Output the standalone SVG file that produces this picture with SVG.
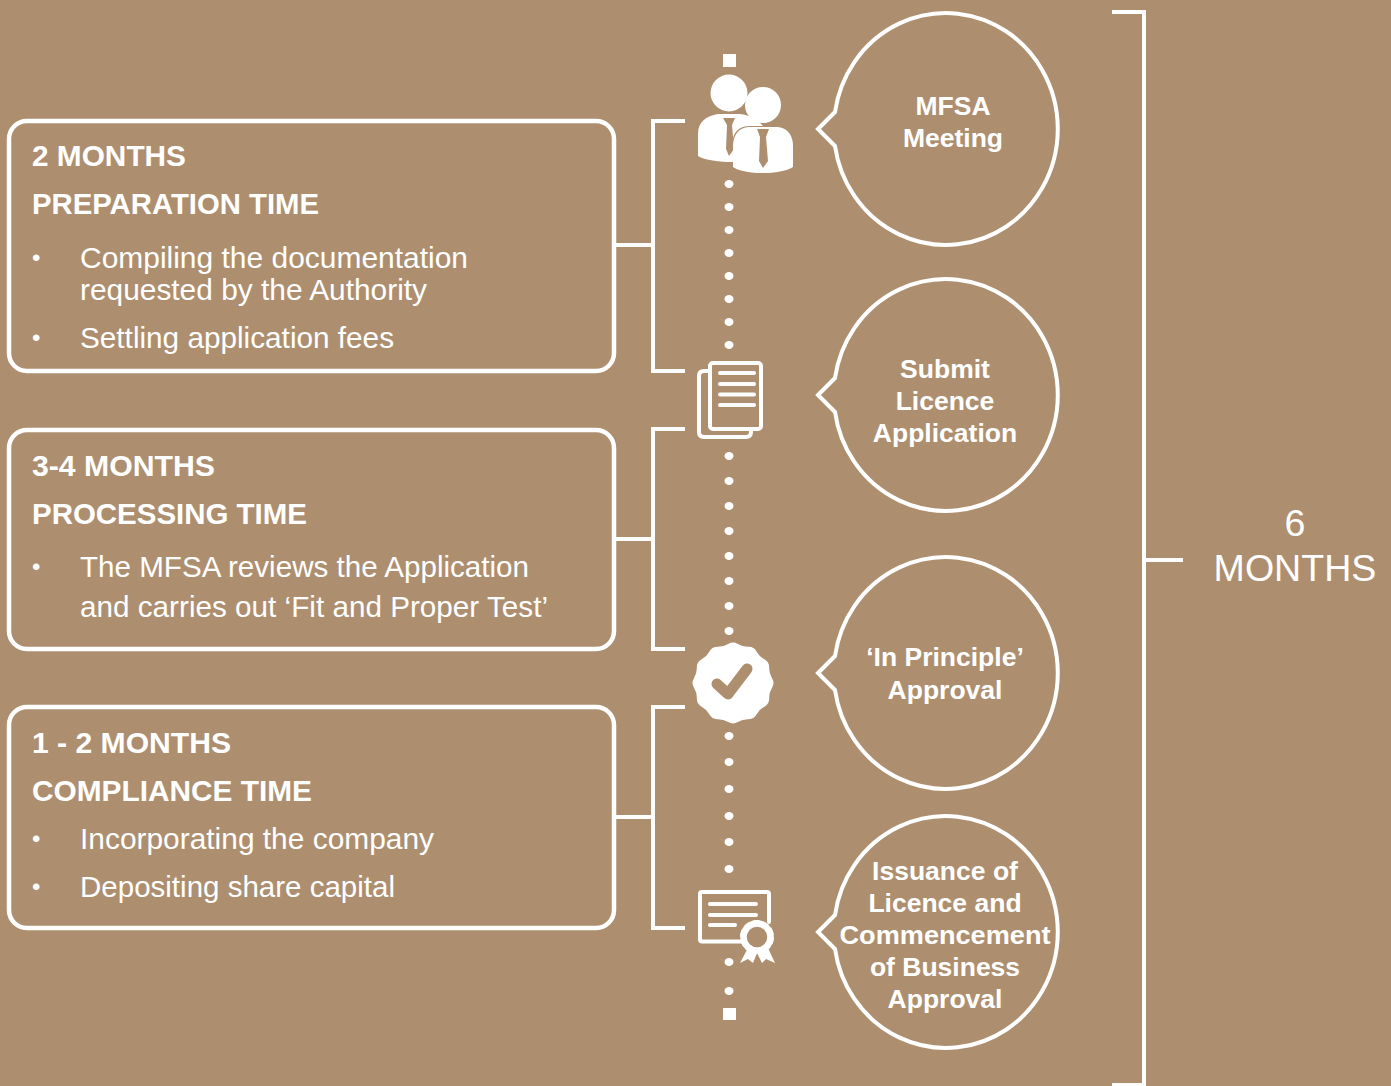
<svg xmlns="http://www.w3.org/2000/svg" width="1391" height="1086" viewBox="0 0 1391 1086">
<style>
text{font-family:"Liberation Sans",Arial,sans-serif;fill:#fff}
.h{font-size:29.5px;font-weight:700}
.b{font-size:30px}
.bu{font-size:24px}
.c{font-size:26.5px;font-weight:700;text-anchor:middle}
.m{font-size:37.6px;text-anchor:middle}
.box{fill:none;stroke:#fff;stroke-width:4.5}
.line{fill:none;stroke:#fff;stroke-width:4}
.ico{fill:none;stroke:#fff;stroke-width:4;stroke-linejoin:round;stroke-linecap:round}
.w{fill:#fff}
.t{fill:#ad8f70}
</style>
<defs>
<path id="bubble" d="M835 -17L818 0L835 17A112 116 0 1 0 835 -17Z" fill="none" stroke="#fff" stroke-width="4"/>
</defs>
<rect width="1391" height="1086" fill="#ad8f70"/>
<g id="connectors">
<path class="line" d="M685 121H653V371H685M614 245H653"/>
<path class="line" d="M685 429H653V649H685M614 539H653"/>
<path class="line" d="M685 707H653V928H685M614 817H653"/>
<path class="line" d="M1112 12H1144V1085H1112M1144 560H1183"/>
<g class="w">
<rect x="723" y="54" width="13" height="13"/>
<rect x="723" y="1008" width="13" height="12"/>
<ellipse cx="729" cy="184" rx="4.5" ry="4"/><ellipse cx="729" cy="207" rx="4.5" ry="4"/><ellipse cx="729" cy="230" rx="4.5" ry="4"/><ellipse cx="729" cy="253" rx="4.5" ry="4"/><ellipse cx="729" cy="276" rx="4.5" ry="4"/><ellipse cx="729" cy="299" rx="4.5" ry="4"/><ellipse cx="729" cy="322" rx="4.5" ry="4"/><ellipse cx="729" cy="345" rx="4.5" ry="4"/>
<ellipse cx="729" cy="456" rx="4.5" ry="4"/><ellipse cx="729" cy="481" rx="4.5" ry="4"/><ellipse cx="729" cy="506" rx="4.5" ry="4"/><ellipse cx="729" cy="531" rx="4.5" ry="4"/><ellipse cx="729" cy="556" rx="4.5" ry="4"/><ellipse cx="729" cy="581" rx="4.5" ry="4"/><ellipse cx="729" cy="606" rx="4.5" ry="4"/><ellipse cx="729" cy="631" rx="4.5" ry="4"/>
<ellipse cx="729" cy="736" rx="4.5" ry="4"/><ellipse cx="729" cy="762" rx="4.5" ry="4"/><ellipse cx="729" cy="789" rx="4.5" ry="4"/><ellipse cx="729" cy="816" rx="4.5" ry="4"/><ellipse cx="729" cy="842" rx="4.5" ry="4"/><ellipse cx="729" cy="869" rx="4.5" ry="4"/>
<ellipse cx="729" cy="962" rx="4.5" ry="4"/><ellipse cx="729" cy="991" rx="4.5" ry="4"/>
</g>
</g>
<g id="box-preparation">
<rect class="box" x="9" y="121" width="605" height="250" rx="18"/>
<text class="h" x="32" y="166" textLength="154" lengthAdjust="spacingAndGlyphs">2 MONTHS</text>
<text class="h" x="32" y="214" textLength="287" lengthAdjust="spacingAndGlyphs">PREPARATION TIME</text>
<text class="bu" x="32" y="266">•</text>
<text class="b" x="80" y="268" textLength="388" lengthAdjust="spacingAndGlyphs">Compiling the documentation</text>
<text class="b" x="80" y="300" textLength="347" lengthAdjust="spacingAndGlyphs">requested by the Authority</text>
<text class="bu" x="32" y="346">•</text>
<text class="b" x="80" y="348" textLength="314" lengthAdjust="spacingAndGlyphs">Settling application fees</text>
</g>
<g id="box-processing">
<rect class="box" x="9" y="430" width="605" height="219" rx="18"/>
<text class="h" x="32" y="476" textLength="183" lengthAdjust="spacingAndGlyphs">3-4 MONTHS</text>
<text class="h" x="32" y="524" textLength="275" lengthAdjust="spacingAndGlyphs">PROCESSING TIME</text>
<text class="bu" x="32" y="575">•</text>
<text class="b" x="80" y="577" textLength="449" lengthAdjust="spacingAndGlyphs">The MFSA reviews the Application</text>
<text class="b" x="80" y="617" textLength="468" lengthAdjust="spacingAndGlyphs">and carries out ‘Fit and Proper Test’</text>
</g>
<g id="box-compliance">
<rect class="box" x="9" y="707" width="605" height="221" rx="18"/>
<text class="h" x="32" y="753" textLength="199" lengthAdjust="spacingAndGlyphs">1 - 2 MONTHS</text>
<text class="h" x="32" y="801" textLength="280" lengthAdjust="spacingAndGlyphs">COMPLIANCE TIME</text>
<text class="bu" x="32" y="847">•</text>
<text class="b" x="80" y="849" textLength="354" lengthAdjust="spacingAndGlyphs">Incorporating the company</text>
<text class="bu" x="32" y="895">•</text>
<text class="b" x="80" y="897" textLength="315" lengthAdjust="spacingAndGlyphs">Depositing share capital</text>
</g>
<g id="icon-meeting">
<circle class="w" cx="729" cy="93" r="18.5"/>
<path class="w" d="M718 114H740C750 115 758 120 763 126L750 126C738 126 733 134 733 140V162C720 162 704 160 698 156V134C698 122 706 116 718 114Z"/>
<path class="t" d="M723 118H735L732 125L734 149L729 156L726 149L727 125Z"/>
<circle class="w" cx="763" cy="105" r="18"/>
<path class="w" d="M748 127H778C788 128 793 136 793 146V167C780 175 745 175 733 167V146C733 136 738 128 748 127Z"/>
<path class="t" d="M757 129H769L766 137L768 161L763 168L759 161L760 137Z"/>
</g>
<g id="icon-document">
<path class="ico" d="M708 371H704Q699 371 699 376V432Q699 437 704 437H746Q751 437 751 432V430"/>
<rect class="ico" x="710" y="363" width="51" height="66" rx="3"/>
<path class="ico" d="M720 373H754M720 384H754M720 394.500H754M720 405H754"/>
</g>
<g id="icon-approval">
<path class="w" transform="translate(733 683) scale(1.05) translate(-733 -683)" d="M728.400 645.850Q733 643 737.600 645.850Q742.200 648.700 747.600 648.550Q753 648.400 755.550 653.150Q758.100 657.900 762.850 660.450Q767.600 663 767.450 668.400Q767.300 673.800 770.150 678.400Q773 683 770.150 687.600Q767.300 692.200 767.450 697.600Q767.600 703 762.850 705.550Q758.100 708.100 755.550 712.850Q753 717.600 747.600 717.450Q742.200 717.300 737.600 720.150Q733 723 728.400 720.150Q723.800 717.300 718.400 717.450Q713 717.600 710.450 712.850Q707.900 708.100 703.150 705.550Q698.400 703 698.550 697.600Q698.700 692.200 695.850 687.600Q693 683 695.850 678.400Q698.700 673.800 698.550 668.400Q698.400 663 703.150 660.450Q707.900 657.900 710.450 653.150Q713 648.400 718.400 648.550Q723.800 648.700 728.400 645.850Z"/>
<path d="M717 684L728 694L747 669" fill="none" stroke="#ad8f70" stroke-width="11" stroke-linejoin="round" stroke-linecap="round"/>
</g>
<g id="icon-certificate">
<path class="ico" d="M741 941.500H702Q700 941.500 700 939.500V894Q700 892 702 892H767Q769 892 769 894V922"/>
<path class="ico" d="M710 904H756M710 915H756M710 925H735"/>
<path class="w" d="M748 948L740 963L748 959L753 963L757 953Z"/>
<path class="w" d="M757 953L762 963L766 959L775 963L768 948Z"/>
<circle cx="757" cy="937" r="13.500" fill="#ad8f70" stroke="#fff" stroke-width="6.500"/>
<circle cx="757" cy="937" r="15.500" fill="none" stroke="#fff" stroke-width="3" stroke-dasharray="7 2.740"/>
</g>
<g id="bubble-meeting">
<use href="#bubble" y="129"/>
<text class="c" x="953" y="115">MFSA</text>
<text class="c" x="953" y="147">Meeting</text>
</g>
<g id="bubble-submit">
<use href="#bubble" y="395"/>
<text class="c" x="945" y="378">Submit</text>
<text class="c" x="945" y="410">Licence</text>
<text class="c" x="945" y="442">Application</text>
</g>
<g id="bubble-principle">
<use href="#bubble" y="673"/>
<text class="c" x="945" y="666">‘In Principle’</text>
<text class="c" x="945" y="699">Approval</text>
</g>
<g id="bubble-issuance">
<use href="#bubble" y="932"/>
<text class="c" x="945" y="880">Issuance of</text>
<text class="c" x="945" y="912">Licence and</text>
<text class="c" x="945" y="944" textLength="211" lengthAdjust="spacingAndGlyphs">Commencement</text>
<text class="c" x="945" y="976">of Business</text>
<text class="c" x="945" y="1008">Approval</text>
</g>
<g id="label-total">
<text class="m" x="1295" y="536">6</text>
<text class="m" x="1295" y="581">MONTHS</text>
</g>
</svg>
